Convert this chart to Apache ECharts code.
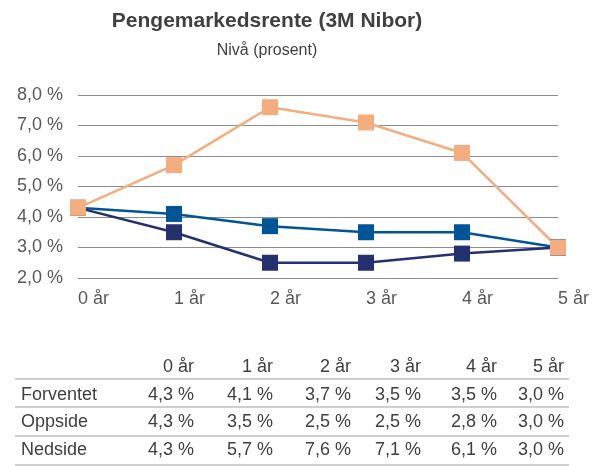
<!DOCTYPE html>
<html>
<head>
    <meta charset="utf-8">
    <title>Pengemarkedsrente (3M Nibor)</title>
    <script src="https://cdn.jsdelivr.net/npm/echarts@6/dist/echarts.min.js"></script>
    <style>
        html, body { margin: 0; padding: 0; background: #fff; }
        #chart { width: 593px; height: 466px; }
    </style>
</head>
<body>
<div id="chart"></div>
<script>
    // data
    var categories = ['0 år', '1 år', '2 år', '3 år', '4 år', '5 år'];
    var forventet = [4.3, 4.1, 3.7, 3.5, 3.5, 3.0];
    var oppside = [4.3, 3.5, 2.5, 2.5, 2.8, 3.0];
    var nedside = [4.3, 5.7, 7.6, 7.1, 6.1, 3.0];
    var rowNames = ['Forventet', 'Oppside', 'Nedside'];

    function pct(v) {
        return v.toFixed(1).replace('.', ',') + ' %';
    }

    var font = 'Liberation Sans, Arial, sans-serif';
    var textColor = '#404040';

    // table under the chart, built from the same arrays
    var colRight = [194, 273, 351, 421, 497, 564];
    var rowY = [367, 395, 422, 450];
    var lineY = [379, 407, 436, 465];
    var rows = [forventet, oppside, nedside];
    var graphics = [
        {type: 'text', x: 267, y: 21, style: {text: 'Pengemarkedsrente (3M Nibor)', fill: textColor,
            font: 'bold 21px ' + font, textAlign: 'center', textVerticalAlign: 'middle'}},
        {type: 'text', x: 267, y: 51, style: {text: 'Nivå (prosent)', fill: '#404040',
            font: '16px ' + font, textAlign: 'center', textVerticalAlign: 'middle'}}
    ];
    categories.forEach(function (c, i) {
        graphics.push({type: 'text', x: colRight[i], y: rowY[0], style: {text: c, fill: textColor,
            font: '18px ' + font, textAlign: 'right', textVerticalAlign: 'middle'}});
    });
    rows.forEach(function (r, j) {
        graphics.push({type: 'text', x: 21, y: rowY[j + 1], style: {text: rowNames[j], fill: textColor,
            font: '18px ' + font, textAlign: 'left', textVerticalAlign: 'middle'}});
        r.forEach(function (v, i) {
            graphics.push({type: 'text', x: colRight[i], y: rowY[j + 1], style: {text: pct(v), fill: textColor,
                font: '18px ' + font, textAlign: 'right', textVerticalAlign: 'middle'}});
        });
    });
    lineY.forEach(function (y) {
        graphics.push({type: 'line', shape: {x1: 15, y1: y, x2: 569, y2: y},
            style: {stroke: '#bfbfbf', lineWidth: 1.5}});
    });

    var chart = echarts.init(document.getElementById('chart'));
    var option = {
        animation: false,
        grid: {
            left: 78,
            right: 35,
            top: 95,
            bottom: 188
        },
        xAxis: {
            type: 'category',
            boundaryGap: false,
            data: categories,
            axisLine: {show: false},
            axisTick: {show: false},
            axisLabel: {
                align: 'left',
                margin: 12,
                fontSize: 18,
                fontFamily: font,
                color: '#595959'
            }
        },
        yAxis: {
            type: 'value',
            min: 2,
            max: 8,
            interval: 1,
            axisLine: {show: false},
            axisTick: {show: false},
            axisLabel: {
                margin: 15,
                fontSize: 18,
                fontFamily: font,
                color: '#595959',
                formatter: function (v) { return pct(v); }
            },
            splitLine: {lineStyle: {color: '#8c8c8c', width: 1.2}}
        },
        series: [{
            name: 'Forventet',
            type: 'line',
            data: forventet,
            color: '#005596',
            symbol: 'rect',
            symbolSize: 16,
            lineStyle: {width: 2.5}
        }, {
            name: 'Oppside',
            type: 'line',
            data: oppside,
            color: '#25316f',
            symbol: 'rect',
            symbolSize: 16,
            lineStyle: {width: 2.5}
        }, {
            name: 'Nedside',
            type: 'line',
            data: nedside,
            color: '#f4ad7f',
            symbol: 'rect',
            symbolSize: 16,
            lineStyle: {width: 2.5}
        }],
        graphic: graphics
    };
    chart.setOption(option);
</script>
</body>
</html>
